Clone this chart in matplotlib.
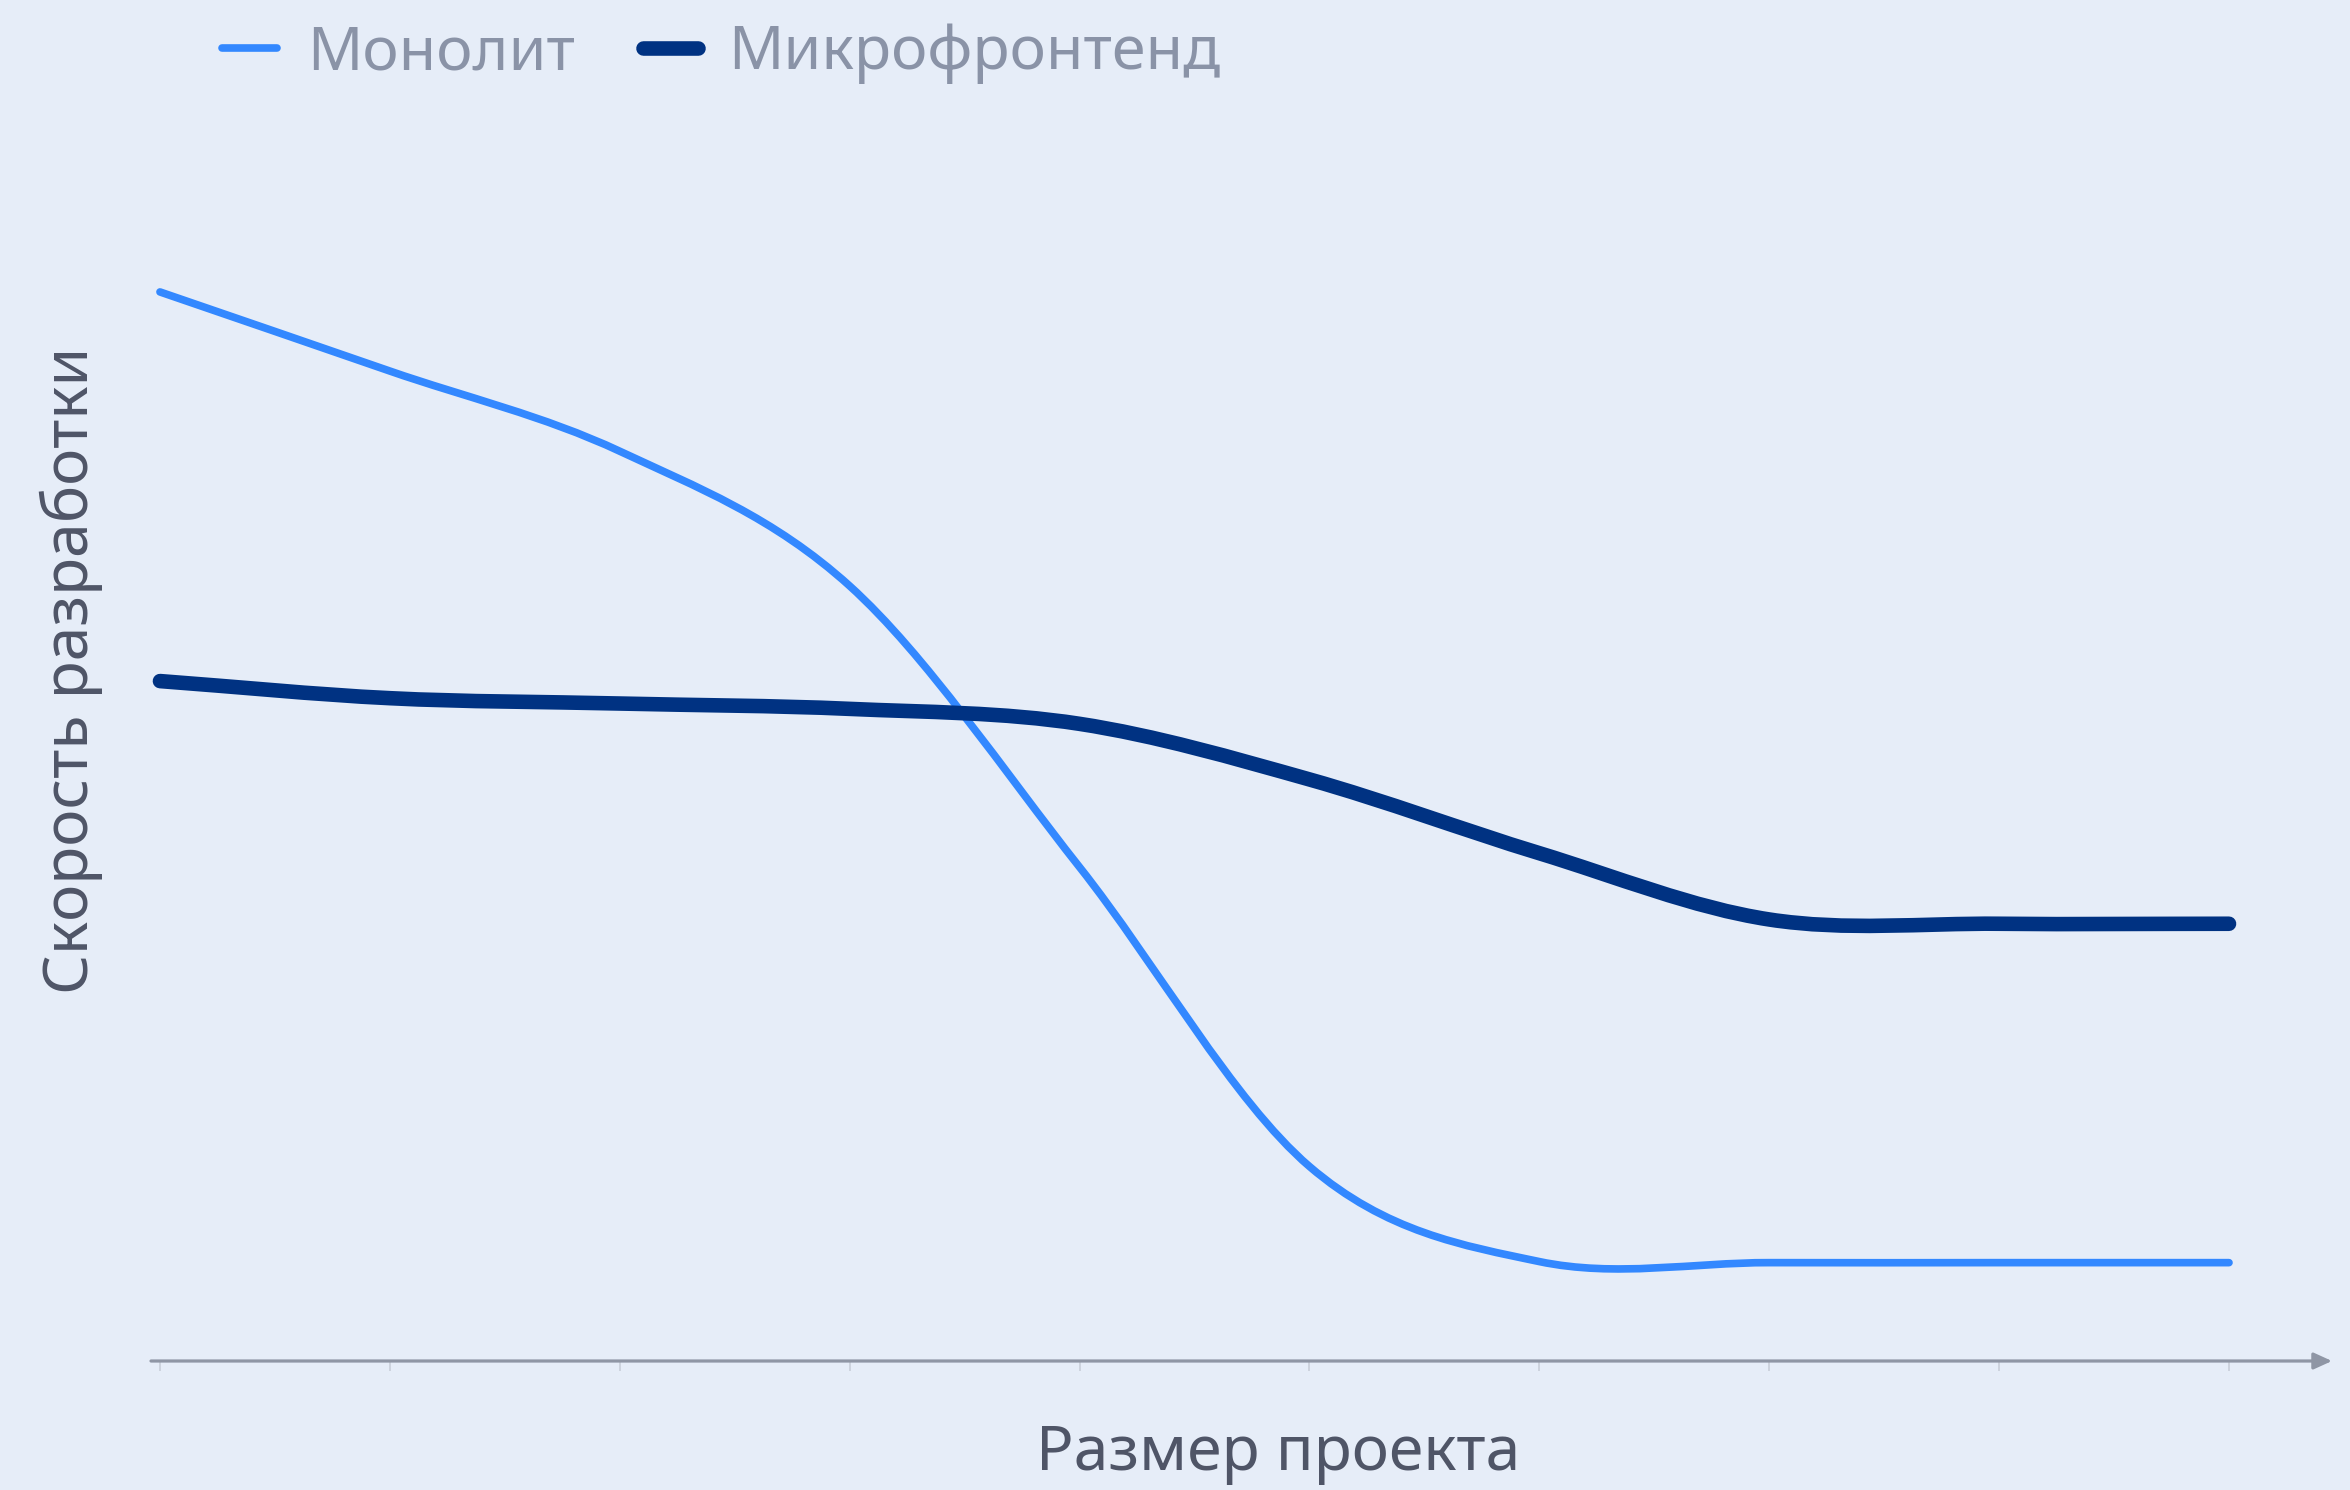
import numpy as np
import matplotlib
matplotlib.use('Agg')
from matplotlib import pyplot as plt
from matplotlib.path import Path
from matplotlib.patches import PathPatch
from matplotlib.lines import Line2D

plt.rcParams['font.family'] = ['Noto Sans', 'DejaVu Sans']

# project size steps (x) and development speed for each architecture
size_steps = list(range(10))
monolith = [100.0, 92.6, 85.1, 72.5, 46.2, 18.2, 9.3, 9.2, 9.2, 9.2]
microfrontend = [63.6, 62.0, 61.5, 61.0, 59.6, 54.4, 47.5, 41.3, 40.9, 40.9]

labels = ['Монолит', 'Микрофронтенд']
colors = ['#3388FF', '#003282']
widths = [5.5, 10.5]

BG = '#E6EDF8'
AXIS = '#8F96A5'
TEXT_DARK = '#4F5567'
TEXT_LEGEND = '#8A93A7'

W, H = 2350, 1490


def smooth_path(xs, ys):
    # cubic bezier through every point, tangents from neighbouring points
    x = np.asarray(xs, float)
    y = np.asarray(ys, float)
    mx = np.gradient(x)
    my = np.gradient(y)
    verts = [(x[0], y[0])]
    codes = [Path.MOVETO]
    for i in range(len(x) - 1):
        verts += [(x[i] + mx[i] / 3, y[i] + my[i] / 3),
                  (x[i + 1] - mx[i + 1] / 3, y[i + 1] - my[i + 1] / 3),
                  (x[i + 1], y[i + 1])]
        codes += [Path.CURVE4] * 3
    return Path(verts, codes)


fig = plt.figure(figsize=(W / 100, H / 100), dpi=100, facecolor=BG)
ax = fig.add_axes([151 / W, (H - 1361) / H, (2332 - 151) / W, (1361 - 200) / H])
ax.set_facecolor(BG)

for ys, c, lw in zip([monolith, microfrontend], colors, widths):
    patch = PathPatch(smooth_path(size_steps, ys), fill=False, edgecolor=c,
                      lw=lw, capstyle='round', joinstyle='round', zorder=3)
    ax.add_patch(patch)

ax.set_xlim(-0.039, 9.448)
ax.set_ylim(0, 108.6)

for s in ax.spines.values():
    s.set_visible(False)
ax.set_xticks(size_steps)
ax.set_yticks([])
ax.tick_params(axis='x', length=7, width=1.2, color='#C9CED9',
               labelbottom=False, direction='out')

# x axis with arrow head
ax.annotate('', xy=(1, 0), xytext=(0, 0), xycoords='axes fraction',
            textcoords='axes fraction', annotation_clip=False,
            arrowprops=dict(arrowstyle='-|>,head_length=0.55,head_width=0.25',
                            color=AXIS, lw=2.3, shrinkA=0, shrinkB=0,
                            mutation_scale=20, capstyle='round'))

fig.text(1278 / W, 1 - 1454 / H, 'Размер проекта', fontsize=45,
         color=TEXT_DARK, ha='center', va='center')
fig.text(71 / W, 1 - 670 / H, 'Скорость разработки', fontsize=45,
         color=TEXT_DARK, ha='center', va='center', rotation=90)

handles = [Line2D([], [], color=c, lw=lw, solid_capstyle='round')
           for c, lw in zip(colors, widths)]
ax.legend(handles, labels, loc='center left',
          bbox_to_anchor=(222 / W, 1 - 54 / H), bbox_transform=fig.transFigure,
          ncol=2, frameon=False, fontsize=44, labelcolor=TEXT_LEGEND,
          handlelength=0.9, handletextpad=0.5, columnspacing=1.1,
          borderaxespad=0, borderpad=0)

fig.savefig('out.png', dpi=100, facecolor=BG)
